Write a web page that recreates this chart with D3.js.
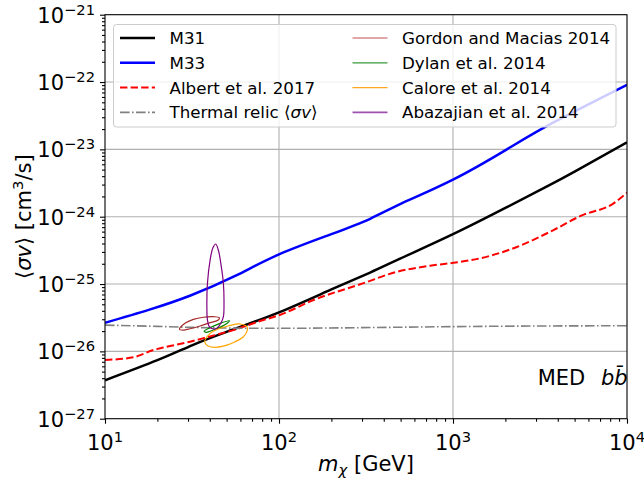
<!DOCTYPE html>
<html>
<head>
<meta charset="utf-8">
<script src="https://cdn.jsdelivr.net/npm/d3@7"></script>
<style>
  body { margin: 0; background: #fff; }
  text { font-family: "DejaVu Sans", sans-serif; }
</style>
</head>
<body>
<svg id="chart" width="644" height="481"></svg>
<script>
// dark matter mass (GeV) and <sigma v> limits (cm^3/s)
var m31Mass = [10, 20, 31.6, 50, 100, 200, 334, 500, 1000, 2000, 3470, 5000, 10000]
var m31Sv = [3.72e-27, 7.4e-27, 1.23e-26, 1.95e-26, 3.8e-26, 8.3e-26, 1.48e-25, 2.4e-25, 5.5e-25, 1.35e-24, 2.82e-24, 4.68e-24, 1.27e-23]

var m33Mass = [10, 18, 31, 56, 100, 200, 334, 500, 1000, 2040, 3780, 10000]
var m33Sv = [2.66e-26, 4.17e-26, 6.76e-26, 1.32e-25, 2.75e-25, 5.5e-25, 9.3e-25, 1.55e-24, 3.55e-24, 1.0e-23, 2.51e-23, 9.1e-23]

var albertMass = [10, 14.6, 19, 22.6, 30.8, 38.5, 54.7, 77.8, 101, 158, 306, 475, 739, 1007, 1432, 2228, 3784, 5383, 8375, 10000]
var albertSv = [7.45e-27, 8.17e-27, 1.05e-26, 1.17e-26, 1.39e-26, 1.62e-26, 2.07e-26, 2.82e-26, 3.47e-26, 5.79e-26, 1.03e-25, 1.52e-25, 1.87e-25, 2.07e-25, 2.41e-25, 3.40e-25, 6.34e-25, 1.02e-24, 1.58e-24, 2.27e-24]

var thermalMass = [10, 20, 30, 50, 100, 300, 1000, 3000, 10000]
var thermalSv = [2.45e-26, 2.35e-26, 2.28e-26, 2.22e-26, 2.2e-26, 2.25e-26, 2.33e-26, 2.38e-26, 2.4e-26]

// Galactic centre excess contours, [mass, <sigma v>]
var gordonPts = [[26.8, 2.12e-26], [28.8, 2.61e-26], [32.2, 2.99e-26], [36.8, 3.21e-26], [42.0, 3.27e-26], [45.4, 3.16e-26], [44.8, 2.92e-26], [40.2, 2.67e-26], [35.2, 2.38e-26], [30.8, 2.17e-26], [28.2, 2.07e-26]]
var dylanPts = [[37.1, 1.99e-26], [40.2, 2.25e-26], [45.9, 2.61e-26], [51.9, 2.85e-26], [49.6, 2.55e-26], [44.7, 2.22e-26], [40.2, 1.99e-26], [38.1, 1.92e-26]]
var calorePts = [[37.6, 1.48e-26], [40.2, 1.85e-26], [44.7, 2.15e-26], [51.0, 2.38e-26], [59.8, 2.55e-26], [65.6, 2.30e-26], [65.6, 2.01e-26], [62.4, 1.65e-26], [55.9, 1.39e-26], [50.1, 1.24e-26], [42.9, 1.15e-26], [39.1, 1.20e-26], [37.6, 1.33e-26]]
var abazajianPts = [[43.3, 3.93e-25], [44.8, 3.20e-25], [46.3, 2.03e-25], [47.9, 1.03e-25], [48.3, 5.18e-26], [47.9, 3.27e-26], [46.3, 2.61e-26], [43.9, 2.20e-26], [42.0, 2.15e-26], [39.8, 2.32e-26], [38.8, 2.92e-26], [38.5, 4.60e-26], [38.8, 1.03e-25], [40.2, 2.28e-25], [41.6, 3.40e-25]]

var xTickExp = [1, 2, 3, 4]
var yTickExp = [-27, -26, -25, -24, -23, -22, -21]

var margin = {top: 14.7, right: 17, bottom: 62.3, left: 105}
var width = 644 - margin.left - margin.right
var height = 481 - margin.top - margin.bottom

var svg = d3.select("#chart")
var g = svg.append("g")
    .attr("transform", "translate(" + margin.left + "," + margin.top + ")")

var x = d3.scaleLog().domain([10, 1e4]).range([0, width])
var y = d3.scaleLog().domain([1e-27, 1e-21]).range([height, 0])

var xMajor = xTickExp.map(e => Math.pow(10, e))
var yMajor = yTickExp.map(e => Math.pow(10, e))
var xMinor = [], yMinor = []
xTickExp.slice(0, -1).forEach(e => { for (var k = 2; k < 10; k++) xMinor.push(k * Math.pow(10, e)) })
yTickExp.slice(0, -1).forEach(e => { for (var k = 2; k < 10; k++) yMinor.push(k * Math.pow(10, e)) })

g.append("defs").append("clipPath").attr("id", "clip")
  .append("rect").attr("width", width).attr("height", height)

// grid
g.append("g").selectAll("line").data(xMajor.slice(1, -1)).enter().append("line")
    .attr("x1", d => x(d)).attr("x2", d => x(d)).attr("y1", 0).attr("y2", height)
    .attr("stroke", "#b0b0b0").attr("stroke-width", 1.1)
g.append("g").selectAll("line").data(yMajor.slice(1, -1)).enter().append("line")
    .attr("y1", d => y(d)).attr("y2", d => y(d)).attr("x1", 0).attr("x2", width)
    .attr("stroke", "#b0b0b0").attr("stroke-width", 1.1)

// curves
var plot = g.append("g").attr("clip-path", "url(#clip)")
var line = d3.line().x(d => x(d[0])).y(d => y(d[1])).curve(d3.curveMonotoneX)
var smooth = d3.line().x(d => x(d[0])).y(d => y(d[1])).curve(d3.curveNatural)
var zip = (a, b) => a.map((v, i) => [v, b[i]])

plot.append("path").datum(zip(m31Mass, m31Sv)).attr("d", smooth)
    .attr("fill", "none").attr("stroke", "#000").attr("stroke-width", 2.5)
plot.append("path").datum(zip(m33Mass, m33Sv)).attr("d", smooth)
    .attr("fill", "none").attr("stroke", "#0000ff").attr("stroke-width", 2.5)
plot.append("path").datum(zip(albertMass, albertSv)).attr("d", line)
    .attr("fill", "none").attr("stroke", "#ff0000").attr("stroke-width", 2)
    .attr("stroke-dasharray", "7.4,3.2")
plot.append("path").datum(zip(thermalMass, thermalSv)).attr("d", line)
    .attr("fill", "none").attr("stroke", "#808080").attr("stroke-width", 1.6)
    .attr("stroke-dasharray", "9.6,2.4,1.6,2.4")

var contourLine = d3.line().x(d => x(d[0])).y(d => y(d[1])).curve(d3.curveCatmullRomClosed)
var contours = [
  {pts: gordonPts, color: "#a52a2a"},
  {pts: dylanPts, color: "#008000"},
  {pts: calorePts, color: "#ffa500"},
  {pts: abazajianPts, color: "#800080"}
]
plot.selectAll(".contour").data(contours).enter().append("path")
    .attr("class", "contour")
    .attr("d", d => contourLine(d.pts))
    .attr("fill", "none").attr("stroke", d => d.color).attr("stroke-width", 1.2)

// axes
var xAxisG = g.append("g").attr("transform", "translate(0," + height + ")")
xAxisG.call(d3.axisBottom(x).tickValues(xMajor).tickSize(5).tickFormat(""))
xAxisG.append("g").call(d3.axisBottom(x).tickValues(xMinor).tickSize(3).tickFormat(""))
var yAxisG = g.append("g")
yAxisG.call(d3.axisLeft(y).tickValues(yMajor).tickSize(5).tickFormat(""))
yAxisG.append("g").call(d3.axisLeft(y).tickValues(yMinor).tickSize(3).tickFormat(""))
g.selectAll(".domain").remove()
g.selectAll(".tick line").attr("stroke", "#000").attr("stroke-width", 1.1)

g.append("rect").attr("width", width).attr("height", height)
    .attr("fill", "none").attr("stroke", "#000").attr("stroke-width", 1.1)

var xl = g.append("g").selectAll("text").data(xTickExp).enter().append("text")
    .attr("x", d => x(Math.pow(10, d))).attr("y", height + 31)
    .attr("text-anchor", "middle").attr("font-size", 21).attr("fill", "#000")
xl.append("tspan").text("10")
xl.append("tspan").attr("dy", -8).attr("font-size", 14.7).text(d => d)

var yl = g.append("g").selectAll("text").data(yTickExp).enter().append("text")
    .attr("x", -10).attr("y", d => y(Math.pow(10, d)) + 8)
    .attr("text-anchor", "end").attr("font-size", 21).attr("fill", "#000")
yl.append("tspan").text("10")
yl.append("tspan").attr("dy", -8).attr("font-size", 14.7).text(d => "\u2212" + Math.abs(d))

// axis titles
var xt = svg.append("text").attr("x", margin.left + width / 2).attr("y", 471)
    .attr("text-anchor", "middle").attr("font-size", 21)
xt.append("tspan").attr("font-style", "italic").text("m")
xt.append("tspan").attr("font-style", "italic").attr("font-size", 14.7).attr("dy", 4).text("\u03c7")
xt.append("tspan").attr("dy", -4).text(" [GeV]")

var yt = svg.append("text").attr("transform", "translate(31," + (margin.top + height / 2) + ") rotate(-90)")
    .attr("text-anchor", "middle").attr("font-size", 21)
yt.append("tspan").text("\u27e8")
yt.append("tspan").attr("font-style", "italic").text("\u03c3v")
yt.append("tspan").text("\u27e9 [cm")
yt.append("tspan").attr("font-size", 14.7).attr("dy", -8).text("3")
yt.append("tspan").attr("dy", 8).text("/s]")

// MED bb annotation
var med = svg.append("text").attr("x", 537.7).attr("y", 385).attr("font-size", 21)
med.append("tspan").text("MED")
med.append("tspan").attr("x", 601).attr("font-style", "italic").text("bb\u0304")

// legend
var legendItems = [
  {label: "M31", color: "#000", width: 2.5, dash: null, col: 0, row: 0},
  {label: "M33", color: "#0000ff", width: 2.5, dash: null, col: 0, row: 1},
  {label: "Albert et al. 2017", color: "#ff0000", width: 2, dash: "7.4,3.2", col: 0, row: 2},
  {label: "Thermal relic", color: "#808080", width: 1.6, dash: "9.6,2.4,1.6,2.4", col: 0, row: 3, math: true},
  {label: "Gordon and Macias 2014", color: "#c0504d", width: 1.2, dash: null, col: 1, row: 0},
  {label: "Dylan et al. 2014", color: "#3a9a3a", width: 1.2, dash: null, col: 1, row: 1},
  {label: "Calore et al. 2014", color: "#ffa520", width: 1.2, dash: null, col: 1, row: 2},
  {label: "Abazajian et al. 2014", color: "#a050b0", width: 1.6, dash: null, col: 1, row: 3}
]
var lg = svg.append("g")
lg.append("rect").attr("x", 113.5).attr("y", 24.5).attr("width", 502.5).attr("height", 102.5)
    .attr("rx", 3).attr("fill", "#fff").attr("fill-opacity", 0.8)
    .attr("stroke", "#cccccc").attr("stroke-width", 1)
var colX = [120, 352.5]
var li = lg.selectAll(".item").data(legendItems).enter().append("g")
    .attr("transform", d => "translate(" + colX[d.col] + "," + (38 + d.row * 24.8) + ")")
li.append("line").attr("x1", 0).attr("x2", 35).attr("stroke", d => d.color)
    .attr("stroke-width", d => d.width).attr("stroke-dasharray", d => d.dash)
var lt = li.append("text").attr("x", 49.5).attr("y", 6).attr("font-size", 16.7)
lt.append("tspan").text(d => d.label)
lt.filter(d => d.math).each(function() {
  var t = d3.select(this)
  t.append("tspan").text(" \u27e8")
  t.append("tspan").attr("font-style", "italic").text("\u03c3v")
  t.append("tspan").text("\u27e9")
})
</script>
</body>
</html>
